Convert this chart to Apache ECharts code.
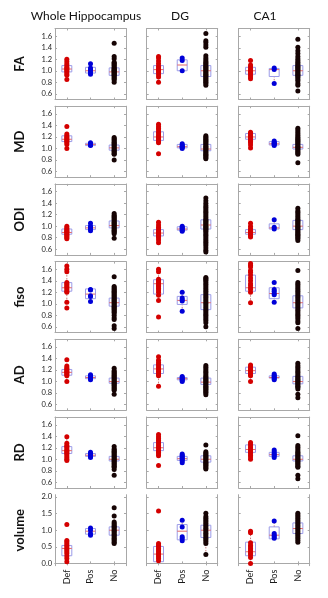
<!DOCTYPE html>
<html><head><meta charset="utf-8">
<script src="https://cdn.jsdelivr.net/npm/echarts@6/dist/echarts.min.js"></script>
<style>html,body{margin:0;padding:0;background:#fff}#c{width:328px;height:598px}</style>
</head><body><div id="c"></div>
<script>
// ---------- data ----------
const groups = ['Def', 'Pos', 'No'];
const regions = ['Whole Hippocampus', 'DG', 'CA1'];
const measures = ['FA', 'MD', 'ODI', 'fiso', 'AD', 'RD', 'volume'];
const ratioTicks = [0.6, 0.8, 1.0, 1.2, 1.4, 1.6];
const volumeTicks = [0.0, 0.5, 1.0, 1.5, 2.0];

// dots: [region][group] -> values
const FA_dots = [
  [[1.20,1.16,1.12,1.09,1.06,1.04,1.02,1.00,0.98,0.95,0.92,0.85],
   [1.12,1.05,1.02,1.00,0.97,0.94],
   [1.48,1.25,1.21,1.15,1.13,1.11,1.09,1.07,1.05,1.04,1.02,1.01,1.00,0.99,0.97,0.96,0.95,0.93,0.92,0.90,0.88,0.86,0.84,0.80]],
  [[1.25,1.22,1.17,1.12,1.08,1.05,1.02,1.00,0.97,0.93,0.89,0.80],
   [1.22,1.18,1.00],
   [1.65,1.52,1.49,1.45,1.41,1.26,1.22,1.19,1.16,1.14,1.12,1.10,1.08,1.06,1.04,1.02,1.00,0.98,0.96,0.94,0.92,0.90,0.88,0.86,0.84,0.82,0.80,0.78,0.75]],
  [[1.18,1.10,1.07,1.04,1.01,0.99,0.97,0.95,0.92,0.89,0.86],
   [1.05,1.02,0.78],
   [1.55,1.41,1.35,1.30,1.25,1.21,1.18,1.15,1.12,1.10,1.08,1.06,1.04,1.02,1.00,0.98,0.96,0.94,0.92,0.90,0.88,0.85,0.82,0.78,0.75,0.65]]
];
const FA_box = [
  [[0.98,1.03,1.09],[0.96,1.00,1.06],[0.92,0.98,1.05]],
  [[0.95,1.02,1.09],[1.00,1.10,1.19],[0.90,1.00,1.09]],
  [[0.94,1.00,1.06],[0.90,1.02,1.04],[0.92,1.00,1.09]]
];

const MD_dots = [
  [[1.38,1.25,1.22,1.20,1.18,1.16,1.14,1.12,1.10,1.07,1.00],
   [1.10,1.08,1.07,1.06,1.05],
   [1.19,1.17,1.15,1.13,1.11,1.09,1.07,1.05,1.03,1.01,0.99,0.97,0.95,0.93,0.91,0.90,0.80]],
  [[1.42,1.38,1.35,1.32,1.28,1.25,1.22,1.20,1.18,1.15,1.12,1.10,0.91],
   [1.08,1.06,1.04,1.03,1.02,1.00],
   [1.22,1.20,1.18,1.16,1.14,1.12,1.10,1.08,1.06,1.04,1.02,1.00,0.98,0.96,0.94,0.92,0.90,0.88,0.86,0.84,0.82]],
  [[1.28,1.26,1.24,1.22,1.20,1.18,1.16,1.14,1.12,1.10,1.06,1.01],
   [1.13,1.11,1.09,1.08,1.07,1.05],
   [1.35,1.32,1.29,1.26,1.23,1.20,1.18,1.16,1.14,1.12,1.10,1.08,1.06,1.04,1.02,1.00,0.98,0.96,0.94,0.92,0.90,0.75]]
];
const MD_box = [
  [[1.12,1.16,1.22],[1.05,1.07,1.09],[0.97,1.01,1.06]],
  [[1.14,1.20,1.29],[1.01,1.03,1.07],[0.96,0.99,1.07]],
  [[1.16,1.20,1.26],[1.06,1.08,1.12],[0.99,1.02,1.07]]
];

const ODI_dots = [
  [[1.00,0.97,0.95,0.93,0.91,0.90,0.88,0.86,0.84,0.82,0.80,0.78],
   [1.05,1.00,0.98,0.96,0.94,0.92],
   [1.22,1.19,1.17,1.15,1.13,1.11,1.09,1.07,1.05,1.03,1.01,0.99,0.97,0.95,0.93,0.91,0.89,0.87,0.79]],
  [[1.07,1.02,0.98,0.95,0.92,0.90,0.88,0.86,0.84,0.82,0.80,0.76,0.71],
   [1.00,0.98,0.96,0.95,0.93,0.91],
   [1.49,1.44,1.40,1.36,1.33,1.30,1.27,1.24,1.21,1.18,1.15,1.12,1.10,1.08,1.06,1.04,1.02,1.00,0.98,0.96,0.94,0.92,0.90,0.87,0.84,0.81,0.78,0.75,0.72,0.69,0.66,0.62,0.58,0.55]],
  [[1.05,1.00,0.96,0.93,0.91,0.89,0.87,0.85,0.83,0.81],
   [1.11,0.98,0.95],
   [1.31,1.27,1.24,1.21,1.18,1.15,1.12,1.10,1.08,1.06,1.04,1.02,1.00,0.98,0.96,0.94,0.92,0.90,0.88,0.86,0.84,0.82,0.80,0.78,0.75]]
];
const ODI_box = [
  [[0.86,0.89,0.95],[0.94,0.97,1.01],[0.97,1.01,1.09]],
  [[0.83,0.88,0.94],[0.93,0.95,0.99],[0.95,1.02,1.11]],
  [[0.86,0.89,0.94],[0.95,0.97,1.04],[0.94,1.00,1.10]]
];

const fiso_dots = [
  [[1.66,1.60,1.56,1.37,1.35,1.33,1.30,1.28,1.25,1.22,1.20,1.03,0.93],
   [1.25,1.24,1.14,1.13,1.04],
   [1.47,1.30,1.28,1.26,1.24,1.22,1.20,1.18,1.16,1.14,1.12,1.10,1.08,1.06,1.04,1.02,1.00,0.98,0.96,0.94,0.92,0.90,0.88,0.86,0.84,0.80,0.76,0.73,0.62,0.57]],
  [[1.60,1.56,1.43,1.40,1.38,1.35,1.32,1.30,1.27,1.24,1.20,1.15,1.06,0.77],
   [1.20,1.10,1.07,1.05,0.87],
   [1.46,1.44,1.42,1.40,1.37,1.34,1.31,1.28,1.25,1.22,1.19,1.16,1.13,1.10,1.07,1.04,1.01,0.98,0.95,0.92,0.89,0.86,0.83,0.80,0.77,0.74,0.71,0.67,0.60]],
  [[1.70,1.67,1.64,1.58,1.55,1.50,1.45,1.40,1.35,1.32,1.28,1.25,1.20,1.02],
   [1.37,1.25,1.22,1.18,1.16,1.03],
   [1.58,1.37,1.34,1.31,1.28,1.25,1.22,1.19,1.16,1.13,1.10,1.07,1.04,1.01,0.98,0.95,0.92,0.89,0.86,0.83,0.80,0.77,0.74,0.70,0.67,0.57]]
];
const fiso_box = [
  [[1.22,1.28,1.37],[1.09,1.17,1.26],[0.96,1.02,1.10]],
  [[1.17,1.35,1.42],[0.99,1.06,1.13],[0.90,1.02,1.16]],
  [[1.22,1.28,1.50],[1.09,1.18,1.28],[0.93,1.02,1.14]]
];

const AD_dots = [
  [[1.38,1.27,1.24,1.22,1.20,1.18,1.16,1.14,1.12,1.10,1.00],
   [1.12,1.10,1.08,1.07,1.05,1.03],
   [1.23,1.19,1.17,1.15,1.13,1.11,1.09,1.07,1.05,1.03,1.01,0.99,0.97,0.95,0.93,0.91,0.89,0.87,0.85,0.78]],
  [[1.43,1.37,1.33,1.30,1.27,1.24,1.21,1.18,1.15,1.12,1.10,0.92],
   [1.09,1.07,1.05,1.04,1.02,1.00],
   [1.28,1.25,1.22,1.19,1.16,1.13,1.10,1.08,1.06,1.04,1.02,1.00,0.98,0.96,0.94,0.92,0.90,0.88,0.86,0.84,0.82,0.80,0.77]],
  [[1.29,1.26,1.24,1.22,1.20,1.18,1.16,1.14,1.12,1.10,1.00],
   [1.13,1.11,1.09,1.07,1.05,1.03],
   [1.32,1.28,1.25,1.22,1.19,1.16,1.13,1.10,1.08,1.06,1.04,1.02,1.00,0.98,0.96,0.94,0.92,0.90,0.87,0.78,0.72]]
];
const AD_box = [
  [[1.11,1.16,1.21],[1.05,1.07,1.10],[0.97,1.00,1.06]],
  [[1.14,1.22,1.29],[1.03,1.05,1.07],[0.95,0.99,1.06]],
  [[1.14,1.19,1.25],[1.06,1.07,1.10],[0.96,1.00,1.09]]
];

const RD_dots = [
  [[1.39,1.28,1.24,1.22,1.20,1.17,1.15,1.13,1.11,1.09,1.06,1.03,1.00,0.98],
   [1.12,1.10,1.08,1.07,1.05,1.03],
   [1.22,1.18,1.16,1.14,1.12,1.10,1.08,1.06,1.04,1.02,1.00,0.98,0.96,0.94,0.92,0.90,0.88,0.86,0.82,0.72]],
  [[1.43,1.39,1.36,1.33,1.30,1.27,1.24,1.21,1.18,1.15,1.12,1.09,1.06,0.89],
   [1.09,1.07,1.05,1.03,1.01,0.99,0.97,0.94],
   [1.25,1.13,1.11,1.09,1.07,1.05,1.03,1.01,0.99,0.97,0.95,0.93,0.91,0.89,0.87,0.85,0.83]],
  [[1.29,1.26,1.23,1.20,1.17,1.15,1.12,1.10,1.07,1.04,1.00],
   [1.16,1.13,1.10,1.08,1.06,1.03],
   [1.41,1.24,1.21,1.18,1.15,1.12,1.10,1.08,1.06,1.04,1.02,1.00,0.98,0.96,0.94,0.92,0.90,0.88,0.86,0.72,0.66]]
];
const RD_box = [
  [[1.10,1.15,1.22],[1.05,1.07,1.10],[0.97,1.00,1.05]],
  [[1.15,1.20,1.29],[0.98,1.01,1.05],[0.95,1.00,1.06]],
  [[1.12,1.17,1.25],[1.05,1.08,1.12],[0.97,1.00,1.06]]
];

const volume_dots = [
  [[1.17,0.69,0.65,0.60,0.55,0.50,0.45,0.40,0.35,0.30,0.22,0.15,0.05],
   [1.07,1.00,0.90,0.85],
   [1.68,1.43,1.25,1.20,1.16,1.12,1.08,1.04,1.00,0.96,0.92,0.88,0.84,0.80,0.76,0.72,0.68,0.64,0.60]],
  [[1.58,0.60,0.55,0.50,0.45,0.40,0.35,0.30,0.25,0.20,0.15,0.08],
   [1.30,1.10,0.80,0.75,0.68],
   [1.51,1.41,1.36,1.31,1.26,1.21,1.16,1.11,1.06,1.01,0.96,0.91,0.86,0.81,0.76,0.71,0.66,0.60,0.27]],
  [[0.97,0.92,0.62,0.55,0.50,0.45,0.40,0.35,0.30,0.25,0.18,0.00],
   [1.28,0.90,0.85,0.80,0.76],
   [1.51,1.46,1.41,1.36,1.31,1.26,1.21,1.16,1.11,1.06,1.01,0.96,0.91,0.86,0.81,0.76,0.70,0.64]]
];
const volume_box = [
  [[0.23,0.45,0.54],[0.88,0.97,1.05],[0.85,1.00,1.10]],
  [[0.05,0.28,0.51],[0.71,0.97,1.17],[0.78,1.00,1.15]],
  [[0.23,0.35,0.64],[0.74,0.85,1.10],[0.90,1.05,1.22]]
];

const allDots = [FA_dots, MD_dots, ODI_dots, fiso_dots, AD_dots, RD_dots, volume_dots];
const allBoxes = [FA_box, MD_box, ODI_box, fiso_box, AD_box, RD_box, volume_box];

// ---------- layout / style ----------
const FONT = 'Lato, "Liberation Sans", sans-serif';
const colLeft = [55, 146.7, 238.7];
const panelW = 71, panelH = 71;
const rowTop0 = 28.5, rowStep = 77.7;
const frameColor = '#a8a8a8';
const groupColors = ['#d40000', '#0000d8', '#160404'];
const boxColor = '#9c9ce8';
const medianColor = '#e46a6a';
const whiskerColor = '#c47a7a';

function whiskers(vals, q1, q3) {
  const iqr = q3 - q1;
  const inside = vals.filter(v => v >= q1 - 1.5 * iqr && v <= q3 + 1.5 * iqr);
  const lo = inside.length ? Math.min.apply(null, inside) : q1;
  const hi = inside.length ? Math.max.apply(null, inside) : q3;
  return [Math.min(lo, q1), Math.max(hi, q3)];
}

const grid = [], xAxis = [], yAxis = [], series = [], graphic = [];

measures.forEach((m, r) => {
  const isVol = m === 'volume';
  const ymin = isVol ? -0.07 : 0.5;
  const ymax = isVol ? 2.07 : 1.735;
  const ticks = isVol ? volumeTicks : ratioTicks;
  regions.forEach((reg, c) => {
    const g = r * 3 + c;
    grid.push({ left: colLeft[c], top: rowTop0 + rowStep * r, width: panelW, height: panelH, containLabel: false });
    const xBase = {
      gridIndex: g, type: 'category', data: groups, boundaryGap: true,
      axisLine: { show: true, lineStyle: { color: frameColor, width: 1 } },
      axisTick: { show: true, inside: true, alignWithLabel: true, length: 2, lineStyle: { color: frameColor } },
      splitLine: { show: false }
    };
    xAxis.push(Object.assign({}, xBase, {
      position: 'bottom',
      axisLabel: { show: r === measures.length - 1, rotate: 90, fontSize: 9, color: '#1a1a1a', margin: 4, fontFamily: FONT }
    }));
    xAxis.push(Object.assign({}, xBase, { position: 'top', axisLabel: { show: false } }));
    const yBase = {
      gridIndex: g, type: 'value', min: ymin, max: ymax,
      axisLine: { show: true, lineStyle: { color: frameColor, width: 1 } },
      axisTick: { show: true, inside: true, length: 2, customValues: ticks, lineStyle: { color: frameColor } },
      splitLine: { show: false }
    };
    yAxis.push(Object.assign({}, yBase, {
      position: 'left',
      axisLabel: { show: c === 0, customValues: ticks, fontSize: 7.5, color: '#222', margin: 3, fontFamily: FONT,
        formatter: v => Number(v).toFixed(1) }
    }));
    yAxis.push(Object.assign({}, yBase, { position: 'right', axisLabel: { show: false } }));

    const dots = allDots[r][c];
    const boxes = allBoxes[r][c];
    const boxData = boxes.map((b, k) => {
      const w = whiskers(dots[k], b[0], b[2]);
      return [k, w[0], b[0], b[1], b[2], w[1]];
    });
    series.push({
      type: 'custom', xAxisIndex: g * 2, yAxisIndex: g * 2, z: 2,
      encode: { x: 0, y: [1, 2, 3, 4, 5] },
      data: boxData,
      renderItem: function (params, api) {
        const x = api.value(0);
        const pLo = api.coord([x, api.value(1)]);
        const pQ1 = api.coord([x, api.value(2)]);
        const pMed = api.coord([x, api.value(3)]);
        const pQ3 = api.coord([x, api.value(4)]);
        const pHi = api.coord([x, api.value(5)]);
        const bw = api.size([1, 0])[0] * 0.42;
        const cx = pMed[0];
        return {
          type: 'group', children: [
            { type: 'line', shape: { x1: cx, y1: pLo[1], x2: cx, y2: pQ1[1] }, style: { stroke: whiskerColor, lineWidth: 1, lineDash: [1.5, 1.5] } },
            { type: 'line', shape: { x1: cx, y1: pQ3[1], x2: cx, y2: pHi[1] }, style: { stroke: whiskerColor, lineWidth: 1, lineDash: [1.5, 1.5] } },
            { type: 'rect', shape: { x: cx - bw / 2, y: pQ3[1], width: bw, height: pQ1[1] - pQ3[1] }, style: { fill: 'rgba(0,0,0,0)', stroke: boxColor, lineWidth: 1 } },
            { type: 'line', shape: { x1: cx - bw / 2, y1: pMed[1], x2: cx + bw / 2, y2: pMed[1] }, style: { stroke: medianColor, lineWidth: 1 } }
          ]
        };
      },
      silent: true
    });
    groups.forEach((gname, k) => {
      series.push({
        type: 'scatter', xAxisIndex: g * 2, yAxisIndex: g * 2, z: 3,
        symbol: 'circle', symbolSize: 5,
        itemStyle: { color: groupColors[k], opacity: 1 },
        data: dots[k].map(v => [k, v]),
        silent: true
      });
    });
  });
  // row label
  graphic.push({
    type: 'text', x: 20, y: rowTop0 + rowStep * r + panelH / 2, rotation: Math.PI / 2,
    style: { text: m, fontSize: 13, fontWeight: 'bold', fontFamily: FONT, fill: '#111', align: 'center', verticalAlign: 'middle' }
  });
});

const titleX = [86, 180, 265];
regions.forEach((reg, c) => {
  graphic.push({
    type: 'text', x: titleX[c], y: 16,
    style: { text: reg, fontSize: 12, fontFamily: FONT, fill: '#111', align: 'center', verticalAlign: 'middle' }
  });
});

const chart = echarts.init(document.getElementById('c'), null, { renderer: 'canvas' });
chart.setOption({
  animation: false,
  backgroundColor: '#fff',
  textStyle: { fontFamily: FONT },
  grid: grid, xAxis: xAxis, yAxis: yAxis, series: series, graphic: graphic
});
</script></body></html>
